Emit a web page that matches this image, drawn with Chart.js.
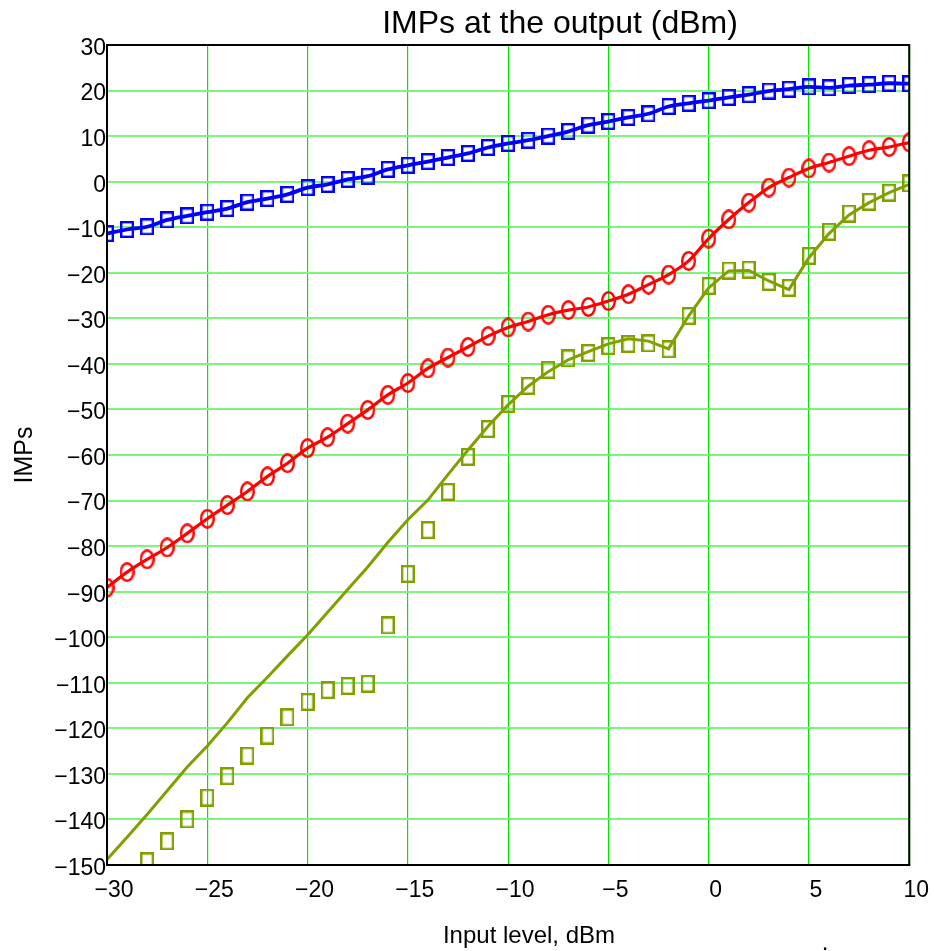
<!DOCTYPE html>
<html>
<head>
<meta charset="utf-8">
<title>IMPs at the output (dBm)</title>
<script src="https://cdn.jsdelivr.net/npm/chart.js@4.4.1/dist/chart.umd.min.js"></script>
<style>
  html, body { margin: 0; padding: 0; background: #fff; }
  .div-chart { position: relative; width: 934px; height: 951px; }
</style>
</head>
<body>
<div class="div-chart"><canvas id="myChart"></canvas></div>
<script>
// input level, dBm
const inputLevels = [-30, -29, -28, -27, -26, -25, -24, -23, -22, -21, -20,
  -19, -18, -17, -16, -15, -14, -13, -12, -11, -10,
  -9, -8, -7, -6, -5, -4, -3, -2, -1, 0,
  1, 2, 3, 4, 5, 6, 7, 8, 9, 10];

// blue squares + line
const fundamental = [-11.4, -10.5, -9.9, -8.4, -7.5, -6.7, -5.9, -4.5, -3.7, -2.8, -1.3,
  -0.6, 0.5, 1.2, 2.7, 3.6, 4.4, 5.3, 6.2, 7.5, 8.4,
  9.1, 10.0, 11.0, 12.4, 13.2, 14.1, 14.9, 16.5, 17.2, 17.8,
  18.5, 19.1, 19.9, 20.3, 20.8, 20.6, 21.1, 21.3, 21.6, 21.5];

// red circles + line
const imp3 = [-89.1, -85.7, -82.9, -80.3, -77.2, -74.0, -71.0, -68.0, -64.7, -61.8, -58.5,
  -56.1, -53.1, -50.1, -46.8, -44.2, -41.0, -38.6, -36.3, -33.9, -32.0,
  -30.7, -29.2, -28.2, -27.5, -26.2, -24.7, -22.6, -20.4, -17.4, -12.5,
  -8.3, -4.6, -1.3, 0.9, 2.9, 4.2, 5.6, 6.9, 7.6, 8.6];

// olive squares (measured)
const imp5Measured = [null, null, -149.2, -144.8, -140.0, -135.2, -130.5, -126.0, -121.6, -117.6, -114.2,
  -111.6, -110.7, -110.2, -97.4, -86.1, -76.5, -68.1, -60.4, -54.3, -48.8,
  -44.8, -41.3, -38.8, -37.6, -36.1, -35.6, -35.5, -36.8, -29.5, -22.9,
  -19.5, -19.3, -22.0, -23.3, -16.3, -11.0, -7.0, -4.4, -2.4, -0.4];

// olive line
const imp5Curve = [-148.8, -143.9, -138.9, -133.7, -128.5, -123.9, -118.8, -113.3, -108.8, -104.1, -99.5,
  -94.5, -89.5, -84.6, -79.2, -74.2, -69.9, -64.3, -58.9, -53.7, -49.0,
  -44.9, -41.7, -39.1, -37.3, -35.6, -34.5, -35.0, -36.7, -29.5, -23.3,
  -19.6, -19.5, -21.8, -23.7, -16.7, -11.4, -7.3, -4.6, -2.4, -0.6];

const xTickValues = [-30, -25, -20, -15, -10, -5, 0, 5, 10];
const yTickValues = [30, 20, 10, 0, -10, -20, -30, -40, -50, -60, -70, -80, -90,
  -100, -110, -120, -130, -140, -150];

const BLUE = '#0000ff';
const RED = '#ff0000';
const OLIVE = '#80a000';

function makeMarker(color, w, h, shape) {
  const c = document.createElement('canvas');
  c.width = w;
  c.height = h;
  const g = c.getContext('2d');
  g.strokeStyle = color;
  g.lineWidth = 2.4;
  if (shape === 'ellipse') {
    g.beginPath();
    g.ellipse(w / 2, h / 2, w / 2 - 1.2, h / 2 - 1.2, 0, 0, Math.PI * 2);
    g.stroke();
  } else {
    g.strokeRect(1.2, 1.2, w - 2.4, h - 2.4);
  }
  return c;
}

const pts = (ys) => inputLevels.map((x, i) => ({ x: x, y: ys[i] }));
const minus = (v) => (v < 0 ? '\u2212' + Math.abs(v) : String(v));

const FONT = "'Liberation Sans', Arial, sans-serif";
Chart.defaults.font.family = FONT;
Chart.defaults.color = '#000';

const framePlugin = {
  id: 'frame',
  afterDatasetsDraw(chart) {
    const { ctx, chartArea: a } = chart;
    ctx.save();
    ctx.strokeStyle = '#000';
    ctx.lineWidth = 2;
    ctx.strokeRect(a.left, a.top, a.right - a.left, a.bottom - a.top);
    ctx.restore();
  }
};

const textPlugin = {
  id: 'texts',
  afterDraw(chart) {
    const ctx = chart.ctx;
    ctx.save();
    ctx.fillStyle = '#000';
    ctx.textAlign = 'center';
    ctx.textBaseline = 'alphabetic';
    ctx.font = '32px ' + FONT;
    ctx.fillText('IMPs at the output (dBm)', 560, 33);
    ctx.font = '24px ' + FONT;
    ctx.fillText('Input level, dBm', 529, 943);
    ctx.fillText('.', 825, 950);
    ctx.restore();
  }
};

const ctx = document.getElementById('myChart').getContext('2d');
new Chart(ctx, {
  type: 'line',
  data: {
    datasets: [
      { data: pts(fundamental), borderColor: BLUE, borderWidth: 3.8, pointRadius: 0,
        cubicInterpolationMode: 'monotone', clip: 0 },
      { data: pts(imp3), borderColor: RED, borderWidth: 3.2, pointRadius: 0,
        cubicInterpolationMode: 'monotone', clip: 0 },
      { data: pts(imp5Curve), borderColor: OLIVE, borderWidth: 3, pointRadius: 0,
        tension: 0, clip: 0 },
      { data: pts(fundamental), showLine: false, pointRadius: 9,
        pointStyle: makeMarker(BLUE, 14, 17, 'rect'), clip: 0 },
      { data: pts(imp3), showLine: false, pointRadius: 9,
        pointStyle: makeMarker(RED, 15, 20, 'ellipse'), clip: 0 },
      { data: pts(imp5Measured), showLine: false, pointRadius: 9,
        pointStyle: makeMarker(OLIVE, 14, 18, 'rect'), clip: 0 }
    ]
  },
  options: {
    responsive: true,
    maintainAspectRatio: false,
    animation: false,
    events: [],
    layout: { padding: { left: 0, top: 45, right: 24.5, bottom: 0 } },
    plugins: { legend: { display: false }, tooltip: { enabled: false } },
    scales: {
      x: {
        type: 'linear',
        min: -30,
        max: 10,
        afterBuildTicks: (s) => { s.ticks = xTickValues.map((v) => ({ value: v })); },
        afterFit: (s) => { s.height = 86; },
        ticks: { font: { size: 23 }, padding: 12, labelOffset: 7, callback: minus, maxRotation: 0 },
        grid: { color: '#00e800', lineWidth: 1.2, drawTicks: false },
        border: { color: '#000', width: 2 }
      },
      y: {
        type: 'linear',
        min: -150,
        max: 30,
        afterBuildTicks: (s) => { s.ticks = yTickValues.map((v) => ({ value: v })); },
        afterFit: (s) => { s.width = 107; },
        ticks: { font: { size: 23 }, padding: 1, labelOffset: 3.5, callback: minus },
        grid: { color: '#7cf57c', lineWidth: 2, drawTicks: false },
        border: { color: '#000', width: 2 },
        title: { display: true, text: 'IMPs', font: { size: 25 }, padding: { top: 10, bottom: 0 } }
      }
    }
  },
  plugins: [framePlugin, textPlugin]
});
</script>
</body>
</html>
